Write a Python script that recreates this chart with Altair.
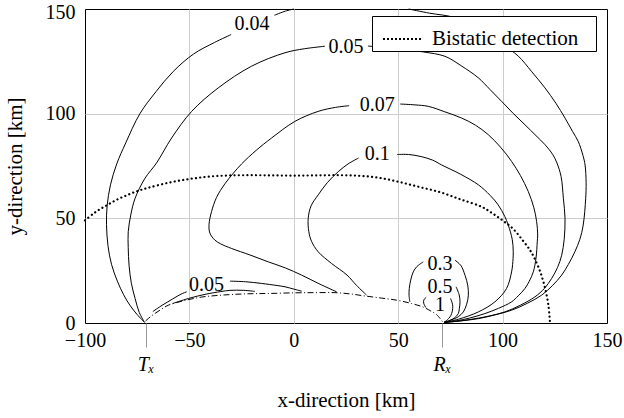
import altair as alt
import pandas as pd

# ---- axis marks ----
X_TICKS = [-100, -71, -50, 0, 50, 71, 100, 150]
Y_TICKS = [0, 50, 100, 150]

# ---- contour 0.04 ----
C004_A = [(-71.5, 0.3), (-75, 4), (-78.5, 8.5), (-81.5, 13.5), (-84.5, 20), (-87.3, 28), (-89, 37),
          (-89.7, 47), (-89.4, 56), (-87.8, 66), (-84.8, 76), (-80.5, 86), (-73.7, 100), (-66, 110.5),
          (-57.7, 120.2), (-48, 128.5), (-38, 134), (-30, 137.8)]
C004_B = [(-9.3, 147), (-4, 149), (0, 150)]
C004_C = [(55, 150), (65, 148), (77.2, 145.8), (90, 139), (100, 133), (107.5, 127.5), (114, 120),
          (120.3, 112.3), (125.5, 105), (129.9, 97.9), (133.5, 91.5), (136.2, 86.8), (138.5, 80),
          (139.5, 75.5), (140, 67), (139.8, 59.6), (138.6, 46.8), (137, 40), (134.6, 34), (131.5, 28),
          (128.3, 22.9), (124, 18), (118.7, 13.3), (112, 9.5), (104.3, 6.1), (96, 3.8), (88.4, 2.1),
          (80, 1), (72, 0.3)]
# ---- contour 0.05 (outer) ----
C005_A = [(-71.5, 0.3), (-74, 5), (-76, 11.7), (-77.8, 19), (-78.9, 27.6), (-79.3, 36), (-79.3, 43.6),
          (-78, 52), (-76, 59.6), (-71.3, 69.1), (-65.7, 76.5), (-58.5, 88.4), (-48.9, 101.1),
          (-36.2, 112.3), (-20.2, 122.7), (-4.2, 129.1), (5, 131), (14.9, 132.2)]
C005_B = [(35.5, 132.3), (50, 131), (62, 129.5), (72.4, 127.4), (80, 123), (88.4, 117.1), (94, 111.5),
          (99.5, 105.9), (105, 100.2), (110.7, 94.7), (116, 89.5), (120.3, 85.2), (124, 80.5),
          (126, 76.5), (128, 70), (129.1, 59.6), (129.9, 50), (129.5, 40), (128.3, 32.4), (126.3, 26.5),
          (123.5, 21.3), (120, 16.5), (115.5, 12.5), (108.5, 8.5), (101.1, 5.3), (93, 3.2), (85.2, 1.8),
          (78, 0.8), (72, 0.3)]
# ---- contour 0.05 (inner, near Tx) ----
C005L_A = [(-67.5, 5.5), (-63, 8.5), (-58, 11.5), (-54, 13.8), (-51.3, 14.9)]
C005L_B = [(-30.6, 20), (-23, 19.7), (-15.4, 18.9), (-8, 17.9), (-4.2, 17.3), (0, 16.2), (3.8, 15.2)]
C_LOW = [(-58, 9.3), (-50.5, 11.7), (-42, 13.8), (-35, 15), (-30.6, 15.6), (-24, 15.6), (-18.6, 15.1)]
# ---- contour 0.07 ----
C007_A = [(20.5, 14.9), (12, 18.8), (3.7, 22.9), (-4, 26.3), (-12.2, 29.2), (-21, 32.5), (-29.8, 35.6),
          (-35, 37.8), (-37.8, 39.6), (-40.2, 43), (-40.6, 47), (-39.4, 53.2), (-37, 60), (-33, 66.5),
          (-29, 71.5), (-25, 76), (-18, 82.5), (-10.6, 88.4), (0.5, 96.3), (11.7, 101.1), (20, 103),
          (26.5, 103.8)]
C007_B = [(51, 104.6), (58, 104.2), (64.4, 103.5), (72, 101), (80.4, 97.9), (87, 94.5), (93.1, 90),
          (99, 84), (104.3, 77.2), (108.5, 70.5), (112.3, 62.8), (115, 55), (116.3, 48.4), (116.8, 42),
          (116.6, 38.8), (116, 31), (114.7, 24.4), (112.8, 20), (110.7, 16.5), (107.5, 13), (104.3, 10.1),
          (98, 7), (91.5, 4.5), (84, 2.3), (78, 1.1), (72, 0.3)]
# ---- contour 0.1 ----
C01_A = [(34.9, 13.3), (30, 18), (25.5, 22.9), (18, 28.5), (11.7, 34), (8.5, 39), (7.2, 43.6), (6.9, 50),
         (8.3, 56), (11.7, 61.2), (16, 67), (21.3, 72.3), (26, 76), (31, 78.8)]
C01_B = [(49.5, 80.5), (55, 80.5), (61, 79.5), (66.5, 77.8), (70.8, 75.5), (80, 71), (88.4, 66),
         (94, 61), (97.9, 56.4), (101, 51), (102.7, 46.8), (104.6, 40), (105.1, 34), (104.8, 28),
         (104.3, 24.4), (101.9, 16.5), (96.3, 10.1), (88.4, 5.3), (78.8, 1.8), (72, 0.3)]
# ---- contours 0.3, 0.5, 1 ----
C03_A = [(55.6, 10.1), (55.2, 13), (55.3, 16.5), (56, 20.5), (57.2, 24.4), (59, 27), (62, 29.2)]
C03_B = [(77.2, 30), (80, 27.5), (82, 22.8), (83.3, 18), (83.6, 13.3), (82.8, 9), (81.2, 5.3),
         (78.8, 3), (76.4, 1.8), (74, 0.9), (72, 0.3)]
C05_B = [(77.7, 17.3), (79.2, 13.5), (79.6, 10.1), (79.3, 7), (78.8, 4.5), (77, 2.5), (74.8, 1.3), (72, 0.3)]
C1_A = [(63.2, 7.4), (62.2, 9.5), (62.3, 11), (63.4, 12.3)]
C1_B = [(75.1, 11.7), (76, 9), (76.1, 6.9), (75.6, 4.5), (74.8, 2.9), (73.5, 1.5), (72, 0.3)]

# ---- dash-dot boundary ----
DASHDOT = [(-71, 1), (-68, 3.5), (-64, 6.2), (-60.1, 8.5), (-52, 10.8), (-44.1, 12.4), (-36, 13.2),
           (-28.1, 13.7), (-20, 14), (-12.2, 14.1), (0, 14.4), (10, 14.5), (19.7, 14.5), (27, 13.9),
           (34.1, 12.9), (42, 11.9), (49.3, 10.9), (56.4, 9.3), (62, 7.6), (66, 5.5), (68.4, 4), (71.5, 0.3)]

# ---- bistatic detection (dotted) ----
BISTATIC = [(-100, 49), (-95, 53), (-90, 56), (-85, 58.8), (-80, 61), (-75, 63), (-70, 64.5), (-60, 67),
            (-50, 68.8), (-40, 70), (-30, 70.5), (-20, 70.6), (-10, 70.5), (0, 70.4), (10, 70.5),
            (20, 70.6), (30, 70.4), (40, 69.5), (50, 67.5), (60, 65), (70, 62.5), (80, 59), (90, 55.5),
            (95, 52.5), (100, 49), (105, 45), (110, 39), (113, 35), (115, 31.5), (118, 24.5),
            (120.5, 16), (122, 8), (122.7, 0)]

# ---- contour labels ----
LABEL_TEXT = ["0.04", "0.05", "0.07", "0.1", "0.05", "0.3", "0.5", "1"]
LABEL_X = [-20, 25, 40, 40, -41.8, 70, 70, 70]
LABEL_Y = [143, 131.8, 104.3, 80.5, 18, 28, 17.3, 8.8]

solid_segments = {
    "c004a": C004_A, "c004b": C004_B, "c004c": C004_C,
    "c005a": C005_A, "c005b": C005_B, "c005la": C005L_A, "c005lb": C005L_B, "clow": C_LOW,
    "c007a": C007_A, "c007b": C007_B, "c01a": C01_A, "c01b": C01_B,
    "c03a": C03_A, "c03b": C03_B, "c05b": C05_B, "c1a": C1_A, "c1b": C1_B,
}


def to_frame(segs):
    rows = []
    for name, pts in segs.items():
        for i, (x, y) in enumerate(pts):
            rows.append({"seg": name, "i": i, "x": x, "y": y})
    return pd.DataFrame(rows)


solid_df = to_frame(solid_segments)
dash_df = to_frame({"dd": DASHDOT})
bis_df = to_frame({"bis": BISTATIC})
bis_df["name"] = "Bistatic detection"
lab_df = pd.DataFrame({"text": LABEL_TEXT, "x": LABEL_X, "y": LABEL_Y})

FONT = "Liberation Serif, Times New Roman, DejaVu Serif, serif"
xs = alt.Scale(domain=[-100, 150], nice=False, zero=False)
ys = alt.Scale(domain=[0, 150], nice=False, zero=False)

special = "abs(datum.value) == 71"
x_axis = alt.Axis(
    values=X_TICKS,
    labelExpr="datum.value == -71 ? 'T\u2093' : (datum.value == 71 ? 'R\u2093' : replace(datum.label, '-', '\u2212'))",
    grid=True,
    gridOpacity={"condition": {"test": special + " || datum.value == -100 || datum.value == 150", "value": 0}, "value": 1},
    tickSize={"condition": {"test": special, "value": 24}, "value": 0},
    tickColor="#999999",
    tickWidth=1,
    labelPadding={"condition": {"test": special, "value": 7}, "value": 7},
    labelFontStyle={"condition": {"test": special, "value": "italic"}, "value": "normal"},
    labelFont=FONT, labelFontSize=20, labelColor="black",
    labelFlush=False, labelOverlap=False,
    domain=False,
    title="x-direction [km]", titleFont=FONT, titleFontSize=21, titleFontWeight="normal",
    titleColor="black", titlePadding=15,
)
y_axis = alt.Axis(
    values=Y_TICKS,
    grid=True,
    gridOpacity={"condition": {"test": "datum.value == 0 || datum.value == 150", "value": 0}, "value": 1},
    tickSize=0, labelPadding=10,
    labelOffset={"condition": {"test": "datum.value == 150", "value": 3}, "value": 0},
    labelFont=FONT, labelFontSize=20, labelColor="black",
    labelFlush=False, labelOverlap=False,
    domain=False,
    title="y-direction [km]", titleFont=FONT, titleFontSize=21, titleFontWeight="normal",
    titleColor="black", titlePadding=20,
)

base_x = alt.X("x:Q", scale=xs, axis=x_axis)
base_y = alt.Y("y:Q", scale=ys, axis=y_axis)

solid = alt.Chart(solid_df).mark_line(color="black", strokeWidth=1, interpolate="catmull-rom").encode(
    x=base_x, y=base_y, detail="seg:N", order="i:Q")

dashdot = alt.Chart(dash_df).mark_line(color="black", strokeWidth=1, strokeDash=[6, 2.5, 1, 2.5],
                                       interpolate="catmull-rom").encode(
    x=alt.X("x:Q", scale=xs), y=alt.Y("y:Q", scale=ys), order="i:Q")

bistatic = alt.Chart(bis_df).mark_line(strokeWidth=2.2, strokeDash=[0.1, 4.2], strokeCap="round",
                                       interpolate="catmull-rom").encode(
    x=alt.X("x:Q", scale=xs), y=alt.Y("y:Q", scale=ys), order="i:Q",
    color=alt.Color("name:N", scale=alt.Scale(range=["black"]),
                    legend=alt.Legend(title=None, orient="none", legendX=287, legendY=7,
                                      symbolType="stroke", symbolSize=1600, symbolStrokeWidth=2,
                                      symbolDash=[2, 2], symbolOffset=8, labelOffset=8,
                                      labelExpr="datum.label + '\u2800'",
                                      labelFont=FONT, labelFontSize=21, labelColor="black",
                                      padding=2, strokeColor="black", fillColor="white",
                                      labelLimit=400)))

labels = alt.Chart(lab_df).mark_text(font=FONT, fontSize=20, color="black", align="center",
                                     baseline="middle").encode(
    x=alt.X("x:Q", scale=xs), y=alt.Y("y:Q", scale=ys), text="text:N")

chart = alt.layer(solid, dashdot, bistatic, labels).properties(
    width=522, height=314,
    padding={"left": 85, "top": 9, "right": 17, "bottom": 95},
    autosize="none",
).configure_view(stroke="black", strokeWidth=1).configure_axis(gridColor="#cccccc", gridWidth=1)

chart.save("out.html", embed_options={"renderer": "svg", "actions": False})
